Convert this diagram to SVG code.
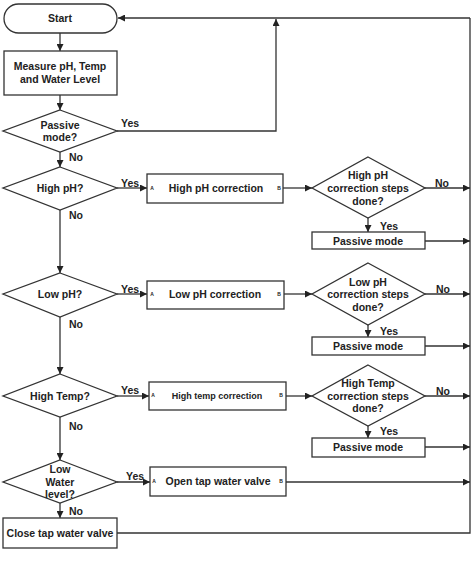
<svg xmlns="http://www.w3.org/2000/svg" width="473" height="565" viewBox="0 0 473 565">
<defs>
<marker id="ah" viewBox="0 0 8 8" refX="8" refY="4" markerWidth="7" markerHeight="7" markerUnits="userSpaceOnUse" orient="auto">
<path d="M0,0 L8,4 L0,8 z" fill="#222"/>
</marker>
</defs>
<style>
.n{fill:#fff;stroke:#333;stroke-width:1.3}
.t{font-family:"Liberation Sans",Arial,sans-serif;font-weight:bold;font-size:10.5px;fill:#222;text-anchor:middle}
.s{font-size:9px}
.p{font-family:"Liberation Sans",Arial,sans-serif;font-weight:bold;font-size:5px;fill:#222;text-anchor:middle}
.l{font-family:"Liberation Sans",Arial,sans-serif;font-weight:bold;font-size:10.5px;fill:#222}
.c{fill:none;stroke:#333;stroke-width:1.3}
.a{marker-end:url(#ah)}
</style>
<rect width="473" height="565" fill="#fff"/>
<g id="connectors">
<path class="c a" d="M60,33 V51"/>
<path class="c a" d="M60,95 V110"/>
<path class="c a" d="M470,18 H118"/>
<path class="c a" d="M117,131 H276 V19"/>
<path class="c a" d="M60,152 V167"/>
<path class="c a" d="M117,188 H147"/>
<path class="c a" d="M283,188 H312"/>
<path class="c a" d="M425,188 H470"/>
<path class="c a" d="M368,218 V232"/>
<path class="c a" d="M425,241 H470"/>
<path class="c a" d="M60,210 V273"/>
<path class="c a" d="M117,294 H147"/>
<path class="c a" d="M284,294 H312"/>
<path class="c a" d="M425,294 H470"/>
<path class="c a" d="M368,325 V337"/>
<path class="c a" d="M425,346 H470"/>
<path class="c a" d="M60,317 V374"/>
<path class="c a" d="M117,396 H149"/>
<path class="c a" d="M286,396 H312"/>
<path class="c a" d="M425,396 H470"/>
<path class="c a" d="M368,426 V438"/>
<path class="c a" d="M425,447 H470"/>
<path class="c a" d="M60,417 V460"/>
<path class="c a" d="M117,482 H150"/>
<path class="c a" d="M286,482 H470"/>
<path class="c a" d="M60,503 V518"/>
<path class="c" d="M117,533 H470 V18"/>
<text class="l" x="121" y="127">Yes</text>
<text class="l" x="69" y="161">No</text>
<text class="l" x="121" y="187">Yes</text>
<text class="l" x="69" y="219">No</text>
<text class="l" x="435" y="187">No</text>
<text class="l" x="380" y="230">Yes</text>
<text class="l" x="121" y="293">Yes</text>
<text class="l" x="69" y="328">No</text>
<text class="l" x="436" y="293">No</text>
<text class="l" x="380" y="335">Yes</text>
<text class="l" x="121" y="394">Yes</text>
<text class="l" x="69" y="430">No</text>
<text class="l" x="436" y="395">No</text>
<text class="l" x="380" y="435">Yes</text>
<text class="l" x="126" y="480">Yes</text>
<text class="l" x="69" y="515">No</text>
</g>
<g id="start">
<rect class="n" x="4" y="4" width="113" height="29" rx="14.5"/>
<text class="t" x="60" y="22">Start</text>
</g>
<g id="measure">
<rect class="n" x="4" y="51" width="113" height="44"/>
<text class="t" x="60" y="70">Measure pH, Temp</text>
<text class="t" x="60" y="83">and Water Level</text>
</g>
<g id="passive-q">
<path class="n" d="M60,110 L117,131 L60,152 L3,131 z"/>
<text class="t" x="60" y="129">Passive</text>
<text class="t" x="60" y="141">mode?</text>
</g>
<g id="high-ph-q">
<path class="n" d="M60,167 L117,188 L60,210 L3,188 z"/>
<text class="t" x="60" y="192">High pH?</text>
</g>
<g id="high-ph-corr">
<rect class="n" x="147" y="174" width="136" height="29"/>
<text class="t" x="216" y="192">High pH correction</text>
<text class="p" x="152" y="190">A</text>
<text class="p" x="279" y="190">B</text>
</g>
<g id="high-ph-done">
<path class="n" d="M368,157 L425,188 L368,218 L312,188 z"/>
<text class="t" x="368" y="179">High pH</text>
<text class="t" x="368" y="192">correction steps</text>
<text class="t" x="368" y="205">done?</text>
</g>
<g id="passive1">
<rect class="n" x="312" y="232" width="113" height="17"/>
<text class="t" x="368" y="245">Passive mode</text>
</g>
<g id="low-ph-q">
<path class="n" d="M60,273 L117,294 L60,317 L3,294 z"/>
<text class="t" x="60" y="298">Low pH?</text>
</g>
<g id="low-ph-corr">
<rect class="n" x="147" y="281" width="137" height="28"/>
<text class="t" x="215" y="298">Low pH correction</text>
<text class="p" x="152" y="296">A</text>
<text class="p" x="279" y="296">B</text>
</g>
<g id="low-ph-done">
<path class="n" d="M368,263 L425,294 L368,325 L312,294 z"/>
<text class="t" x="368" y="286">Low pH</text>
<text class="t" x="368" y="298">correction steps</text>
<text class="t" x="368" y="311">done?</text>
</g>
<g id="passive2">
<rect class="n" x="312" y="337" width="113" height="18"/>
<text class="t" x="368" y="350">Passive mode</text>
</g>
<g id="high-temp-q">
<path class="n" d="M60,374 L117,396 L60,417 L3,396 z"/>
<text class="t" x="60" y="400">High Temp?</text>
</g>
<g id="high-temp-corr">
<rect class="n" x="149" y="382" width="137" height="28"/>
<text class="t s" x="217" y="399">High temp correction</text>
<text class="p" x="153" y="397">A</text>
<text class="p" x="281" y="397">B</text>
</g>
<g id="high-temp-done">
<path class="n" d="M368,365 L425,396 L368,426 L312,396 z"/>
<text class="t" x="368" y="387">High Temp</text>
<text class="t" x="368" y="400">correction steps</text>
<text class="t" x="368" y="412">done?</text>
</g>
<g id="passive3">
<rect class="n" x="312" y="438" width="113" height="19"/>
<text class="t" x="368" y="451">Passive mode</text>
</g>
<g id="low-water-q">
<path class="n" d="M60,460 L117,482 L60,503 L3,482 z"/>
<text class="t" x="60" y="473">Low</text>
<text class="t" x="60" y="486">Water</text>
<text class="t" x="60" y="498">level?</text>
</g>
<g id="open-valve">
<rect class="n" x="150" y="467" width="136" height="29"/>
<text class="t" x="218" y="485">Open tap water valve</text>
<text class="p" x="154" y="483">A</text>
<text class="p" x="281" y="483">B</text>
</g>
<g id="close-valve">
<rect class="n" x="3" y="518" width="114" height="30"/>
<text class="t" x="60" y="537">Close tap water valve</text>
</g>
</svg>
